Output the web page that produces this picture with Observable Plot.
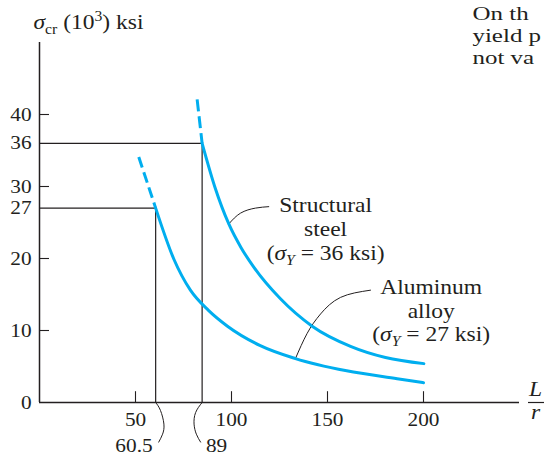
<!DOCTYPE html>
<html>
<head>
<meta charset="utf-8">
<script src="https://cdn.jsdelivr.net/npm/d3@7"></script>
<script src="https://cdn.jsdelivr.net/npm/@observablehq/plot@0.6"></script>
<style>
  html, body { margin: 0; padding: 0; background: #fff; }
  #chart svg { display: block; }
</style>
</head>
<body>
<div id="chart"></div>
<script>
// ---- data ----
const xTicks = [50, 100, 150, 200];
const yTicks = [10, 20, 30, 40];
const yTickLabels = [0, 10, 20, 27, 30, 36, 40];

// proportional limits (as drawn): position along L/r, stress, label
const limitPos = [60.5, 84.7];
const limitStress = [27, 36];
const limitLabels = ["60.5", "89"];

// structural steel curve (sigma_Y = 36 ksi)
const steelDashX = [82.1, 84.7];
const steelDashY = [42.1, 36.0];
const steelX = [84.7, 91.5, 98.6, 105, 111.6, 125.5, 142, 162, 180.2, 200.2];
const steelY = [36.0, 29.8, 24.8, 21.5, 18.8, 14.4, 10.6, 7.8, 6.25, 5.4];

// aluminum alloy curve (sigma_Y = 27 ksi)
const alumDashX = [51.7, 60.5];
const alumDashY = [34.1, 27.0];
const alumX = [60.5, 70, 78.6, 88, 97.9, 115, 133.3, 160, 186.3, 200];
const alumY = [27.0, 19.9, 15.6, 12.8, 10.6, 7.9, 6.1, 4.4, 3.3, 2.75];

const steelLabel = "Structural\nsteel\n(σY = 36 ksi)";
const alumLabel = "Aluminum\nalloy\n(σY = 27 ksi)";
const yTitle = "σcr (103) ksi";
const bodyLines = ["On th", "yield p", "not va"];

// ---- helpers ----
const pts = (xs, ys) => xs.map((x, i) => ({x, y: ys[i]}));
const limits = limitPos.map((p, i) => ({pos: p, stress: limitStress[i], label: limitLabels[i]}));

const FONT = "'Liberation Serif', 'Times New Roman', serif";
const ink = "#231f20";
const cyan = "#00aeef";
const STRETCH = 1.12;      // the reference typeface is wider than Liberation Serif
const BODY_STRETCH = 1.28; // the cropped page text is wider still

// leader geometry relative to anchor points on the curves
const steelAnchor = {x: steelX[2], y: steelY[2]};
const steelLeader = [[0,0],[6.1,1.5],[13.9,2.2],[20.8,2.4]].map(([dx,dy]) => ({x: steelAnchor.x + dx, y: steelAnchor.y + dy}));
const alumAnchor = {x: alumX[6], y: alumY[6]};
const alumLeader = [[0,0],[6.1,3.5],[13.1,6.2],[23.5,8.5],[39.1,9.5]].map(([dx,dy]) => ({x: alumAnchor.x + dx, y: alumAnchor.y + dy}));
const braceA = [[0,0],[2.5,-1.1],[4.3,-3.0],[3.6,-4.4],[1.6,-5.5]].map(([dx,dy]) => ({x: limitPos[0] + dx, y: dy}));
const braceB = [[0,0],[-3.4,-1.4],[-4.2,-3.0],[-3.0,-4.4],[-0.8,-5.5]].map(([dx,dy]) => ({x: limitPos[1] + dx, y: dy}));

const chart = Plot.plot({
  width: 544,
  height: 456,
  marginLeft: 39,
  marginRight: 25,
  marginTop: 42,
  marginBottom: 54,
  x: {domain: [0, 250], axis: null},
  y: {domain: [0, 50], axis: null},
  style: {fontFamily: FONT, fontSize: "21px", color: ink, background: "#fff", overflow: "visible"},
  marks: [
    // axes
    Plot.ruleX([0], {y1: 0, y2: 50, stroke: ink, strokeWidth: 1.5}),
    Plot.ruleY([0], {x1: 0, x2: 250, stroke: ink, strokeWidth: 1.5}),
    Plot.ruleY([0], {x1: 254.7, x2: 266, stroke: ink, strokeWidth: 1.2}),
    // ticks (inside)
    Plot.ruleX(xTicks, {y1: 0, y2: 1.5, stroke: ink, strokeWidth: 1.1}),
    Plot.ruleY(yTicks, {x1: 0, x2: 5.2, stroke: ink, strokeWidth: 1.1}),
    // limit lines
    Plot.ruleY(limits, {y: "stress", x1: 0, x2: "pos", stroke: ink, strokeWidth: 1.2}),
    Plot.ruleX(limits, {x: "pos", y1: 0, y2: "stress", stroke: ink, strokeWidth: 1.2}),
    // braces under the axis
    Plot.line(braceA, {x: "x", y: "y", curve: "natural", stroke: ink, strokeWidth: 1}),
    Plot.line(braceB, {x: "x", y: "y", curve: "natural", stroke: ink, strokeWidth: 1}),
    // leaders
    Plot.line(steelLeader, {x: "x", y: "y", curve: "natural", stroke: ink, strokeWidth: 1}),
    Plot.line(alumLeader, {x: "x", y: "y", curve: "natural", stroke: ink, strokeWidth: 1}),
    // curves
    Plot.line(pts(steelDashX, steelDashY), {x: "x", y: "y", stroke: cyan, strokeWidth: 3, strokeDasharray: "12,5", strokeLinecap: "butt"}),
    Plot.line(pts(alumDashX, alumDashY), {x: "x", y: "y", stroke: cyan, strokeWidth: 3, strokeDasharray: "11,5", strokeLinecap: "butt"}),
    Plot.line(pts(steelX, steelY), {x: "x", y: "y", curve: "monotone-x", stroke: cyan, strokeWidth: 3}),
    Plot.line(pts(alumX, alumY), {x: "x", y: "y", curve: "monotone-x", stroke: cyan, strokeWidth: 3}),
    // tick labels
    Plot.text(xTicks, {x: d => d, y: 0, dy: 17, text: d => String(d), fontSize: 19, fill: ink}),
    Plot.text(yTickLabels, {x: 0, dx: -8, y: d => d, text: d => String(d), textAnchor: "end", fontSize: 19, fill: ink}),
    Plot.text(limits.slice(0, 1), {x: "pos", y: 0, dx: -21.7, dy: 43, text: "label", fontSize: 19, fill: ink}),
    Plot.text(limits.slice(1), {x: "pos", y: 0, dx: 14.4, dy: 43, text: "label", fontSize: 19, fill: ink}),
    // axis titles
    Plot.text([yTitle], {x: 0, y: 50, dx: -6, dy: -20, text: d => d, textAnchor: "start", fill: ink}),
    Plot.text(["L"], {x: 250, y: 0, dx: 16, dy: -13.7, text: d => d, fontStyle: "italic", fill: ink}),
    Plot.text(["r"], {x: 250, y: 0, dx: 16, dy: 9.3, text: d => d, fontStyle: "italic", fill: ink}),
    // curve labels
    Plot.text([steelLabel], {x: 149, y: 24.13, text: d => d, lineAnchor: "middle", lineHeight: 1.143, fill: ink}),
    Plot.text([alumLabel], {x: 204.0, y: 12.85, text: d => d, lineAnchor: "middle", lineHeight: 1.12, fill: ink}),
    // cropped body text at the right edge
    Plot.text([bodyLines.join("\n")], {x: 225.5, y: 51.1, text: d => d, textAnchor: "start", lineAnchor: "middle", lineHeight: 1.13, fontSize: 19.5, fill: ink})
  ]
});

// ---- rich text (italic sigma, sub/superscripts) ----
const SVGNS = "http://www.w3.org/2000/svg";
function rich(el, parts) {
  while (el.firstChild) el.removeChild(el.firstChild);
  for (const p of parts) {
    const t = document.createElementNS(SVGNS, "tspan");
    t.textContent = p.t;
    if (p.italic) t.setAttribute("font-style", "italic");
    if (p.size) t.setAttribute("font-size", p.size);
    if (p.dy) t.setAttribute("dy", p.dy);
    el.appendChild(t);
  }
}
chart.querySelectorAll("text, tspan").forEach(el => {
  if (el.childElementCount > 0) return;
  const s = el.textContent;
  if (s === yTitle) {
    rich(el, [
      {t: "σ", italic: true},
      {t: "cr", size: "14px", dy: "5"},
      {t: " (10", dy: "-5"},
      {t: "3", size: "14px", dy: "-8"},
      {t: ") ksi", dy: "8"}
    ]);
  } else if (s.startsWith("(σY")) {
    const rest = s.slice(3);
    rich(el, [
      {t: "("},
      {t: "σ", italic: true},
      {t: "Y", italic: true, size: "14px", dy: "5"},
      {t: rest, dy: "-5"}
    ]);
  }
});

document.getElementById("chart").appendChild(chart);

// widen glyphs to match the reference typeface
chart.querySelectorAll("text").forEach(el => {
  const lines = el.querySelectorAll(":scope > tspan[x]");
  const targets = lines.length ? Array.from(lines) : [el];
  for (const t of targets) {
    const len = t.getComputedTextLength();
    if (len > 0) {
      const k = bodyLines.includes(t.textContent) ? BODY_STRETCH : STRETCH;
      t.setAttribute("textLength", (len * k).toFixed(2));
      t.setAttribute("lengthAdjust", "spacingAndGlyphs");
    }
  }
});
</script>
</body>
</html>
